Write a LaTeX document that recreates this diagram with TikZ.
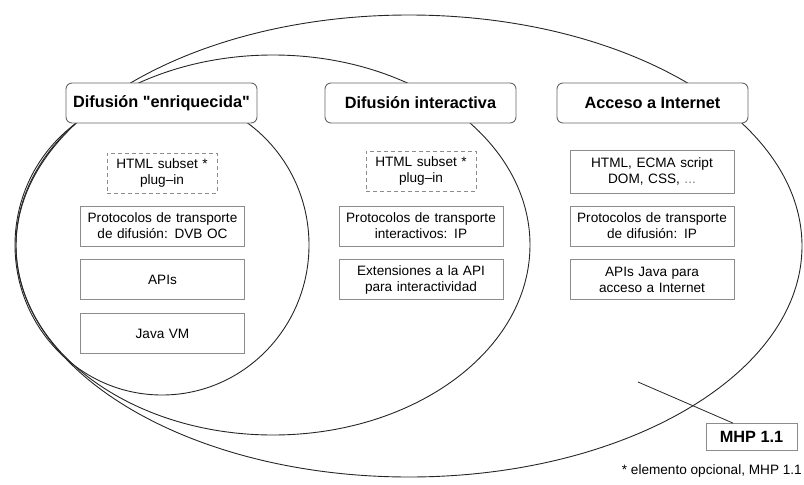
\documentclass[tikz,border=0pt]{standalone}
\usepackage{fontspec}
\setmainfont{Liberation Sans}
\usetikzlibrary{shapes.geometric}

\definecolor{linegray}{gray}{0.15}
\definecolor{boxgray}{gray}{0.55}

\tikzset{
  ring/.style={ellipse, draw=linegray, line width=0.9pt, inner sep=0pt, outer sep=0pt},
  profile/.style={draw=linegray!70, line width=0.9pt, rounded corners=6pt, fill=white,
    minimum width=191pt, minimum height=40pt, inner sep=0pt,
    font=\fontsize{16.3}{19}\selectfont\bfseries},
  layer/.style={draw=boxgray, line width=0.8pt, fill=white, minimum width=164pt,
    minimum height=40pt, inner sep=0pt, align=center, text width=162pt,
    font=\fontsize{13.6}{16}\selectfont},
  optlayer/.style={layer, dashed, dash pattern=on 4pt off 3pt, minimum width=110pt, text width=108pt},
  tag/.style={draw=boxgray, line width=0.8pt, minimum width=91pt, minimum height=27pt,
    inner sep=0pt, font=\fontsize{16.3}{19}\selectfont\bfseries},
}

\begin{document}
\begin{tikzpicture}[x=1pt, y=-1pt]
\useasboundingbox (0,0) rectangle (804,485);

% nested profile sets
\node[ring, minimum width=786pt, minimum height=462pt] (e3) at (409,246) {};
\node[ring, minimum width=514pt, minimum height=380pt] (e2) at (273,245) {};
\node[ring, minimum width=294pt, minimum height=300pt] (e1) at (162,245) {};

% profile titles
\node[profile] (t1) at (161.5,103) {Difusión \textquotedbl enriquecida\textquotedbl};
\node[profile] (t2) at (420.5,103) {Difusión interactiva};
\node[profile] (t3) at (652.5,103) {Acceso a Internet};

% enhanced broadcast stack
\node[optlayer] (a0) at (162,173) {HTML subset *\\plug–in};
\node[layer] (a1) at (162.5,226) {Protocolos de transporte\\de difusión: DVB OC};
\node[layer] (a2) at (162.5,279.5) {APIs};
\node[layer] (a3) at (162.5,333.5) {Java VM};

% interactive broadcast stack
\node[optlayer] (b0) at (421,171) {HTML subset *\\plug–in};
\node[layer] (b1) at (421,226) {Protocolos de transporte\\interactivos: IP};
\node[layer] (b2) at (421,279.5) {Extensiones a la API\\para interactividad};

% internet access stack
\node[layer, minimum height=43pt] (c0) at (652,171.5) {HTML, ECMA script\\DOM, CSS, \textcolor{gray}{...}};
\node[layer] (c1) at (652,226) {Protocolos de transporte\\de difusión: IP};
\node[layer] (c2) at (652,279.5) {APIs Java para\\acceso a Internet};

% version label
\node[tag] (mhp) at (751.5,437) {MHP 1.1};
\coordinate (mhpin) at (638,382);
\draw[linegray, line width=0.8pt] (mhpin) -- ([xshift=-18.5pt]mhp.north);

% footnote
\node[anchor=base east, inner sep=0pt, font=\fontsize{13.6}{16}\selectfont] (note) at (802,474) {* elemento opcional, MHP 1.1};
\end{tikzpicture}
\end{document}
